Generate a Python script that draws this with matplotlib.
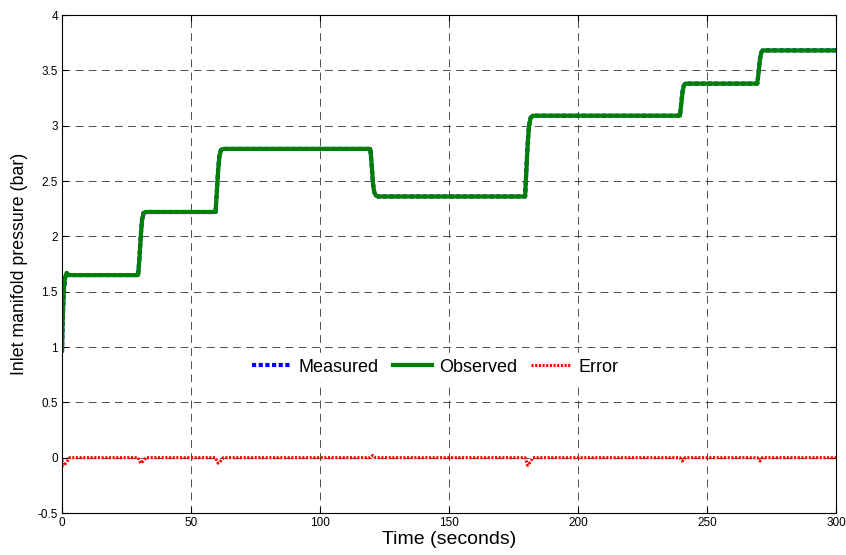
import matplotlib
matplotlib.use("Agg")
import matplotlib.pyplot as plt

# Trajectory (time s, pressure bar)
time_pts = [0.0, 0.3, 0.7, 1.2, 1.8, 2.5, 4.0, 29.5, 30.0, 30.5, 31.0, 31.6, 32.5,
            59.5, 60.0, 60.5, 61.0, 61.6, 62.5, 119.5, 120.0, 120.5, 121.0, 121.6, 122.5,
            179.5, 180.0, 180.5, 181.0, 181.6, 182.5, 239.5, 240.0, 240.5, 241.0, 241.6, 242.5,
            269.5, 270.0, 270.5, 271.0, 271.6, 272.5, 300.0]
measured = [0.95, 1.25, 1.50, 1.62, 1.67, 1.65, 1.65, 1.65, 1.80, 2.00, 2.15, 2.21, 2.22,
            2.22, 2.40, 2.60, 2.73, 2.78, 2.79, 2.79, 2.65, 2.48, 2.40, 2.37, 2.36,
            2.36, 2.62, 2.85, 3.00, 3.07, 3.09, 3.09, 3.20, 3.31, 3.36, 3.38, 3.38,
            3.38, 3.49, 3.60, 3.66, 3.68, 3.68, 3.68]
observed = [0.97, 1.28, 1.52, 1.63, 1.67, 1.65, 1.65, 1.65, 1.79, 1.99, 2.14, 2.21, 2.22,
            2.22, 2.39, 2.59, 2.72, 2.78, 2.79, 2.79, 2.66, 2.49, 2.40, 2.37, 2.36,
            2.36, 2.60, 2.83, 2.99, 3.07, 3.09, 3.09, 3.19, 3.30, 3.36, 3.38, 3.38,
            3.38, 3.48, 3.59, 3.66, 3.68, 3.68, 3.68]

err_time = [0.0, 0.5, 1.5, 3.0, 29.5, 30.5, 31.5, 32.5, 59.5, 60.5, 61.5, 62.5,
            119.5, 120.5, 121.5, 179.5, 180.5, 181.5, 182.5, 239.5, 240.5, 241.5,
            269.5, 270.5, 271.5, 300.0]
error = [-0.02, -0.07, -0.05, 0.0, 0.0, -0.05, -0.03, 0.0, 0.0, -0.05, -0.03, 0.0,
         0.0, 0.02, 0.0, 0.0, -0.07, -0.04, 0.0, 0.0, -0.03, 0.0,
         0.0, -0.03, 0.0, 0.0]

xticks = [0, 50, 100, 150, 200, 250, 300]
yticks = [-0.5, 0, 0.5, 1, 1.5, 2, 2.5, 3, 3.5, 4]
ytick_labels = ["-0.5", "0", "0.5", "1", "1.5", "2", "2.5", "3", "3.5", "4"]

plt.rcParams['font.family'] = ['Liberation Sans', 'DejaVu Sans']

fig = plt.figure(figsize=(8.46, 5.55), dpi=100)
ax = fig.add_axes([62/846, 1 - 513/555, (836-62)/846, (513-15)/555])

ax.plot(time_pts, measured, color='blue', linestyle=(0, (1, 0.6)), linewidth=3, label='Measured')
ax.plot(time_pts, observed, color='#008000', linestyle='-', linewidth=3.0, label='Observed')
ax.plot(err_time, error, color='red', linestyle=(0, (0.7, 0.5)), linewidth=2.2, label='Error')

ax.set_xlim(0, 300)
ax.set_ylim(-0.5, 4)
ax.set_xticks(xticks)
ax.set_yticks(yticks)
ax.set_yticklabels(ytick_labels)
ax.tick_params(direction='in', length=4, labelsize=8.5, width=0.8, top=True, right=True, pad=3)
ax.grid(True, color='#222222', linestyle=(0, (8, 5.5)), linewidth=0.7, alpha=0.8)
for s in ax.spines.values():
    s.set_linewidth(0.8)

ax.set_xlabel('Time (seconds)', fontsize=14, labelpad=1)
ax.set_ylabel('Inlet manifold pressure (bar)', fontsize=12.8, labelpad=7)

leg = ax.legend(loc='center', bbox_to_anchor=(0.482, 0.293), ncol=3, frameon=True,
                fancybox=False, edgecolor='white', facecolor='white', framealpha=1,
                fontsize=13, handlelength=2.2, columnspacing=0.75, handletextpad=0.4,
                borderpad=0.3)

fig.savefig('out.png', dpi=100)
